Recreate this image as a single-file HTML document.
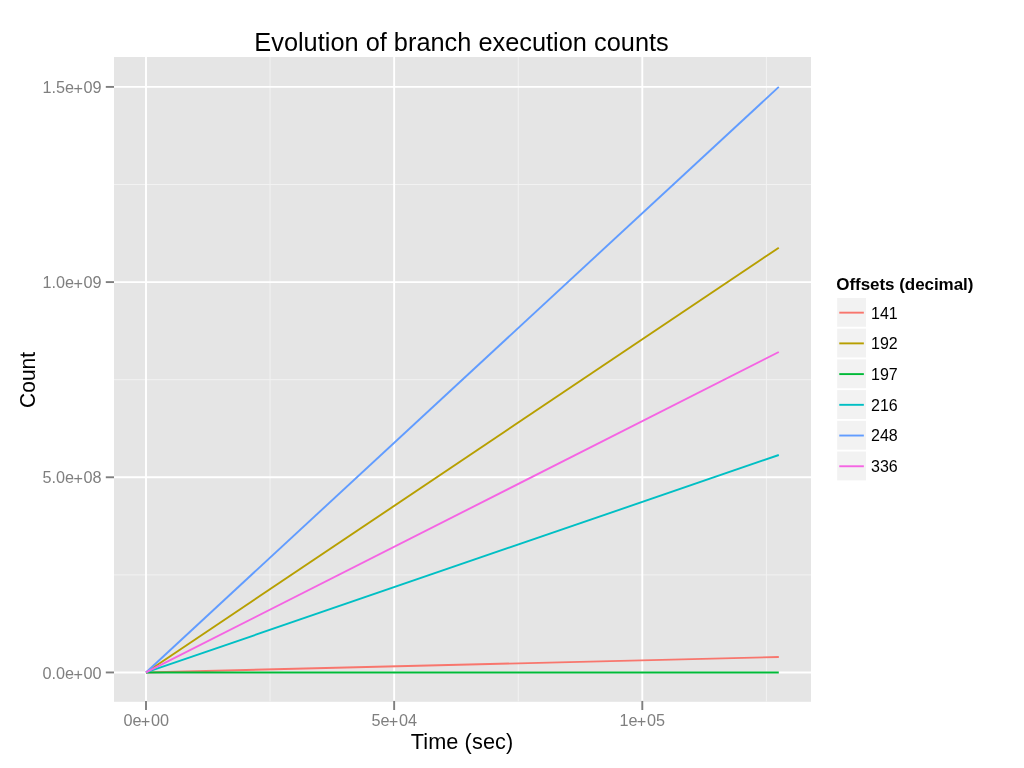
<!DOCTYPE html>
<html lang="en"><head><meta charset="utf-8"><title>Evolution of branch execution counts</title>
<style>html,body{margin:0;padding:0;background:#fff;}body{width:1024px;height:768px;overflow:hidden;}svg{display:block;}text{font-family:"Liberation Sans",Arial,Helvetica,sans-serif;white-space:pre;}</style></head><body>
<svg width="1024" height="768" viewBox="0 0 1024 768">
<rect width="1024" height="768" fill="#ffffff"/>
<rect x="114.0" y="57.0" width="697.0" height="644.80" fill="#E5E5E5"/>
<clipPath id="pc"><rect x="114.0" y="57.0" width="697.0" height="644.80"/></clipPath>
<g clip-path="url(#pc)">
<g stroke="#F2F2F2" stroke-width="0.95" fill="none">
<line x1="114.0" x2="811.0" y1="574.86" y2="574.86"/>
<line x1="114.0" x2="811.0" y1="379.68" y2="379.68"/>
<line x1="114.0" x2="811.0" y1="184.50" y2="184.50"/>
<line y1="57.0" y2="701.8" x1="270.07" x2="270.07"/>
<line y1="57.0" y2="701.8" x1="518.23" x2="518.23"/>
<line y1="57.0" y2="701.8" x1="766.38" x2="766.38"/>
</g>
<g stroke="#FFFFFF" stroke-width="1.9" fill="none">
<line x1="114.0" x2="811.0" y1="672.45" y2="672.45"/>
<line x1="114.0" x2="811.0" y1="477.27" y2="477.27"/>
<line x1="114.0" x2="811.0" y1="282.09" y2="282.09"/>
<line x1="114.0" x2="811.0" y1="86.91" y2="86.91"/>
<line y1="57.0" y2="701.8" x1="146.00" x2="146.00"/>
<line y1="57.0" y2="701.8" x1="394.15" x2="394.15"/>
<line y1="57.0" y2="701.8" x1="642.30" x2="642.30"/>
</g>
<g stroke-width="1.9" fill="none" stroke-linecap="butt">
<line x1="146.0" y1="672.45" x2="778.8" y2="657.0" stroke="#F8766D"/>
<line x1="146.0" y1="672.45" x2="778.8" y2="247.7" stroke="#B79F00"/>
<line x1="146.0" y1="672.45" x2="778.8" y2="672.45" stroke="#00BA38"/>
<line x1="146.0" y1="672.45" x2="778.8" y2="455.0" stroke="#00BFC4"/>
<line x1="146.0" y1="672.45" x2="778.8" y2="86.9" stroke="#619CFF"/>
<line x1="146.0" y1="672.45" x2="778.8" y2="352.0" stroke="#F564E3"/>
</g></g>
<g stroke="#7F7F7F" stroke-width="1.9" fill="none">
<line x1="105.8" x2="114.0" y1="672.45" y2="672.45"/>
<line x1="105.8" x2="114.0" y1="477.27" y2="477.27"/>
<line x1="105.8" x2="114.0" y1="282.09" y2="282.09"/>
<line x1="105.8" x2="114.0" y1="86.91" y2="86.91"/>
<line y1="700.9" y2="710.0" x1="146.00" x2="146.00"/>
<line y1="700.9" y2="710.0" x1="394.15" x2="394.15"/>
<line y1="700.9" y2="710.0" x1="642.30" x2="642.30"/>
</g>
<text transform="translate(42.4,678.7) scale(0.985,1)" font-size="16.5px" fill="#7F7F7F">0.0e<tspan dy="1.2" dx="-0.6">+</tspan><tspan dy="-1.2" dx="0.6">00</tspan></text>
<text transform="translate(42.4,482.8) scale(0.985,1)" font-size="16.5px" fill="#7F7F7F">5.0e<tspan dy="1.2" dx="-0.6">+</tspan><tspan dy="-1.2" dx="0.6">08</tspan></text>
<text transform="translate(42.4,287.8) scale(0.985,1)" font-size="16.5px" fill="#7F7F7F">1.0e<tspan dy="1.2" dx="-0.6">+</tspan><tspan dy="-1.2" dx="0.6">09</tspan></text>
<text transform="translate(42.4,92.8) scale(0.985,1)" font-size="16.5px" fill="#7F7F7F">1.5e<tspan dy="1.2" dx="-0.6">+</tspan><tspan dy="-1.2" dx="0.6">09</tspan></text>
<text transform="translate(123.4,725.8) scale(0.985,1)" font-size="16.5px" fill="#7F7F7F">0e<tspan dy="1.2" dx="-0.6">+</tspan><tspan dy="-1.2" dx="0.6">00</tspan></text>
<text transform="translate(371.4,725.8) scale(0.985,1)" font-size="16.5px" fill="#7F7F7F">5e<tspan dy="1.2" dx="-0.6">+</tspan><tspan dy="-1.2" dx="0.6">04</tspan></text>
<text transform="translate(619.4,725.8) scale(0.985,1)" font-size="16.5px" fill="#7F7F7F">1e<tspan dy="1.2" dx="-0.6">+</tspan><tspan dy="-1.2" dx="0.6">05</tspan></text>
<text transform="translate(254.3,51.0) scale(0.95,1)" font-size="26.7px" fill="#000">Evolution of branch execution counts</text>
<text transform="translate(410.7,749.2)" font-size="21.7px" letter-spacing="0.1" fill="#000">Time (sec)</text>
<text transform="translate(35.2,407.9) rotate(-90) scale(0.94,1)" font-size="22.3px" fill="#000">Count</text>
<text transform="translate(836.3,289.5)" font-size="17px" font-weight="bold" letter-spacing="-0.05" fill="#000">Offsets (decimal)</text>
<rect x="837.15" y="297.95" width="28.82" height="28.82" fill="#F2F2F2"/>
<line x1="839.27" x2="863.85" y1="312.66" y2="312.66" stroke="#F8766D" stroke-width="1.9"/>
<text transform="translate(871.0,318.9)" font-size="16px" fill="#000">141</text>
<rect x="837.15" y="328.67" width="28.82" height="28.82" fill="#F2F2F2"/>
<line x1="839.27" x2="863.85" y1="343.38" y2="343.38" stroke="#B79F00" stroke-width="1.9"/>
<text transform="translate(871.0,348.8)" font-size="16px" fill="#000">192</text>
<rect x="837.15" y="359.39" width="28.82" height="28.82" fill="#F2F2F2"/>
<line x1="839.27" x2="863.85" y1="374.10" y2="374.10" stroke="#00BA38" stroke-width="1.9"/>
<text transform="translate(871.0,379.8)" font-size="16px" fill="#000">197</text>
<rect x="837.15" y="390.11" width="28.82" height="28.82" fill="#F2F2F2"/>
<line x1="839.27" x2="863.85" y1="404.82" y2="404.82" stroke="#00BFC4" stroke-width="1.9"/>
<text transform="translate(871.0,410.8)" font-size="16px" fill="#000">216</text>
<rect x="837.15" y="420.83" width="28.82" height="28.82" fill="#F2F2F2"/>
<line x1="839.27" x2="863.85" y1="435.54" y2="435.54" stroke="#619CFF" stroke-width="1.9"/>
<text transform="translate(871.0,441.3)" font-size="16px" fill="#000">248</text>
<rect x="837.15" y="451.55" width="28.82" height="28.82" fill="#F2F2F2"/>
<line x1="839.27" x2="863.85" y1="466.26" y2="466.26" stroke="#F564E3" stroke-width="1.9"/>
<text transform="translate(871.0,471.7)" font-size="16px" fill="#000">336</text>
</svg></body></html>
